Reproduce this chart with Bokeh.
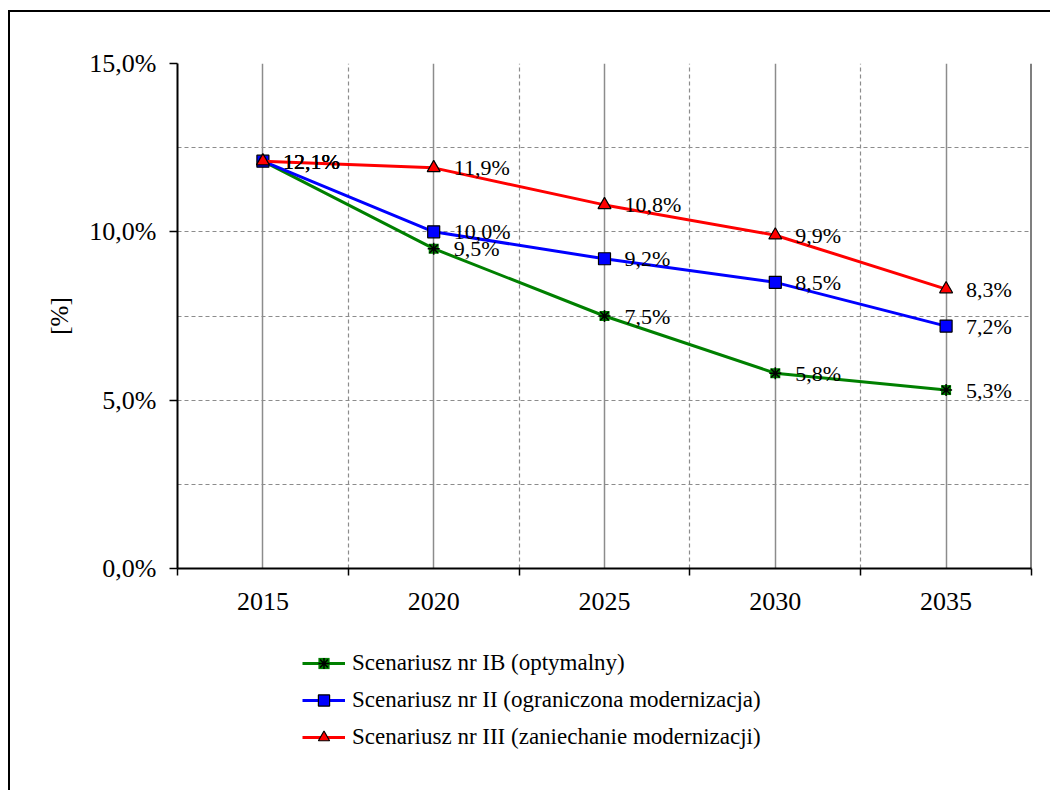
from bokeh.plotting import figure
from bokeh.layouts import column
from bokeh.models import (ColumnDataSource, FixedTicker, Legend, LegendItem, Span,
                          CustomJSTickFormatter)
from bokeh.embed import file_html
from bokeh.resources import INLINE
from bokeh.core.properties import value

# ---- data ----
years = [2015, 2020, 2025, 2030, 2035]
year_labels = ["2015", "2020", "2025", "2030", "2035"]
scen_IB = [12.1, 9.5, 7.5, 5.8, 5.3]
scen_II = [12.1, 10.0, 9.2, 8.5, 7.2]
scen_III = [12.1, 11.9, 10.8, 9.9, 8.3]
series_names = [
    "Scenariusz nr IB (optymalny)",
    "Scenariusz nr II (ograniczona modernizacja)",
    "Scenariusz nr III (zaniechanie modernizacji)",
]
y_ticks = [0, 5, 10, 15]
y_tick_labels = ["0,0%", "5,0%", "10,0%", "15,0%"]
y_minor = [2.5, 7.5, 12.5]
y_label = "[%]"

FONT = "Liberation Serif"
GREEN, BLUE, RED = "#008000", "#0000FF", "#FF0000"
step = (years[1] - years[0]) / 2.0
x_bounds = [years[0] - step] + [y + step for y in years]


def fmt(v):
    return ("%.1f" % v).replace(".", ",") + "%"


p = figure(width=1040, height=618, title=None,
           x_range=(x_bounds[0], x_bounds[-1]), y_range=(y_ticks[0], y_ticks[-1]),
           output_backend="svg", toolbar_location=None,
           min_border_left=167, min_border_right=19, min_border_top=51, min_border_bottom=62,
           background_fill_color="white", border_fill_color="white",
           outline_line_color=None)

# x axis
xt = FixedTicker(ticks=years, minor_ticks=x_bounds)
xax = p.xaxis[0]
xax.ticker = xt
p.xgrid.ticker = xt
xax.formatter = CustomJSTickFormatter(args=dict(t=years, l=year_labels),
    code="const i = t.indexOf(tick); return i >= 0 ? l[i] : '';")
xax.major_tick_line_color = None
xax.major_tick_out = 0
xax.major_tick_in = 0
xax.minor_tick_line_color = "black"
xax.minor_tick_line_width = 1.5
xax.minor_tick_out = 7
xax.minor_tick_in = 0
xax.axis_line_color = "black"
xax.axis_line_width = 2
xax.major_label_text_font = FONT
xax.major_label_text_font_size = "26px"
xax.major_label_text_color = "black"
xax.major_label_standoff = 17

# y axis
yt = FixedTicker(ticks=y_ticks, minor_ticks=y_minor)
yax = p.yaxis[0]
yax.ticker = yt
p.ygrid.ticker = yt
yax.formatter = CustomJSTickFormatter(args=dict(t=y_ticks, l=y_tick_labels),
    code="const i = t.indexOf(tick); return i >= 0 ? l[i] : '';")
yax.major_tick_line_color = "black"
yax.major_tick_line_width = 1.5
yax.major_tick_out = 8
yax.major_tick_in = 0
yax.minor_tick_line_color = None
yax.axis_line_color = "black"
yax.axis_line_width = 2
yax.major_label_text_font = FONT
yax.major_label_text_font_size = "26px"
yax.major_label_text_color = "black"
yax.major_label_standoff = 13
yax.axis_label = y_label
yax.axis_label_text_font = FONT
yax.axis_label_text_font_size = "25px"
yax.axis_label_text_font_style = "normal"
yax.axis_label_text_color = "black"
yax.axis_label_standoff = 13

# grids
p.xgrid.grid_line_color = "#8c8c8c"
p.xgrid.grid_line_width = 1.5
p.xgrid.minor_grid_line_color = "#8c8c8c"
p.xgrid.minor_grid_line_width = 1.2
p.xgrid.minor_grid_line_dash = "4 3"
p.ygrid.grid_line_color = "#8c8c8c"
p.ygrid.grid_line_width = 1.2
p.ygrid.grid_line_dash = "4 3"
p.ygrid.minor_grid_line_color = "#8c8c8c"
p.ygrid.minor_grid_line_width = 1.2
p.ygrid.minor_grid_line_dash = "4 3"

p.add_layout(Span(location=x_bounds[-1], dimension="height", line_color="black", line_width=2))

src = ColumnDataSource(dict(
    x=years, ib=scen_IB, ii=scen_II, iii=scen_III,
    ib_t=[fmt(v) for v in scen_IB], ii_t=[fmt(v) for v in scen_II], iii_t=[fmt(v) for v in scen_III],
))


def draw_series(fig, source, ycol):
    if ycol == "ib":
        r = [fig.line("x", ycol, source=source, line_color=GREEN, line_width=3),
             fig.scatter("x", ycol, source=source, marker="square", size=10, fill_color=GREEN, line_color=None),
             fig.scatter("x", ycol, source=source, marker="asterisk", size=12, line_color="black", line_width=1.5)]
    elif ycol == "ii":
        r = [fig.line("x", ycol, source=source, line_color=BLUE, line_width=3),
             fig.scatter("x", ycol, source=source, marker="square", size=12, fill_color=BLUE,
                         line_color="black", line_width=1.2)]
    else:
        r = [fig.line("x", ycol, source=source, line_color=RED, line_width=3),
             fig.scatter("x", ycol, source=source, marker="triangle", size=13, fill_color=RED,
                         line_color="black", line_width=1.2)]
    return r


cols = ["ib", "ii", "iii"]
for col in cols:
    draw_series(p, src, col)
for col in cols:
    p.text("x", col, text=col + "_t", source=src, x_offset=20, text_baseline="middle",
           text_align="left", text_font=value(FONT), text_font_size="22px", text_color="black")

# ---- legend panel (separate figure below the chart) ----
# the legend figure's ranges exclude the data, so only the legend swatches show
leg = figure(width=1040, height=160, title=None, x_range=(0, 1), y_range=(0, 1),
             output_backend="svg", toolbar_location=None,
             x_axis_location=None, y_axis_location=None,
             min_border_left=0, min_border_right=0, min_border_top=0, min_border_bottom=0,
             background_fill_color="white", border_fill_color="white", outline_line_color=None)
leg.xgrid.grid_line_color = None
leg.ygrid.grid_line_color = None
items = []
for col, name in zip(cols, series_names):
    items.append(LegendItem(label=name, renderers=draw_series(leg, src, col)))

legend = Legend(items=items, location=(125, 39), border_line_color=None, background_fill_alpha=0,
                padding=0, margin=0, spacing=9, glyph_width=43, glyph_height=28, label_height=28,
                label_standoff=7, label_text_font=FONT, label_text_font_size="23px",
                label_text_color="black")
leg.add_layout(legend, "center")

layout = column(p, leg, styles={"border-left": "2px solid black", "border-top": "2px solid black",
                                "margin-left": "8px", "margin-top": "10px"})

open("out.html", "w").write(file_html(layout, INLINE))
